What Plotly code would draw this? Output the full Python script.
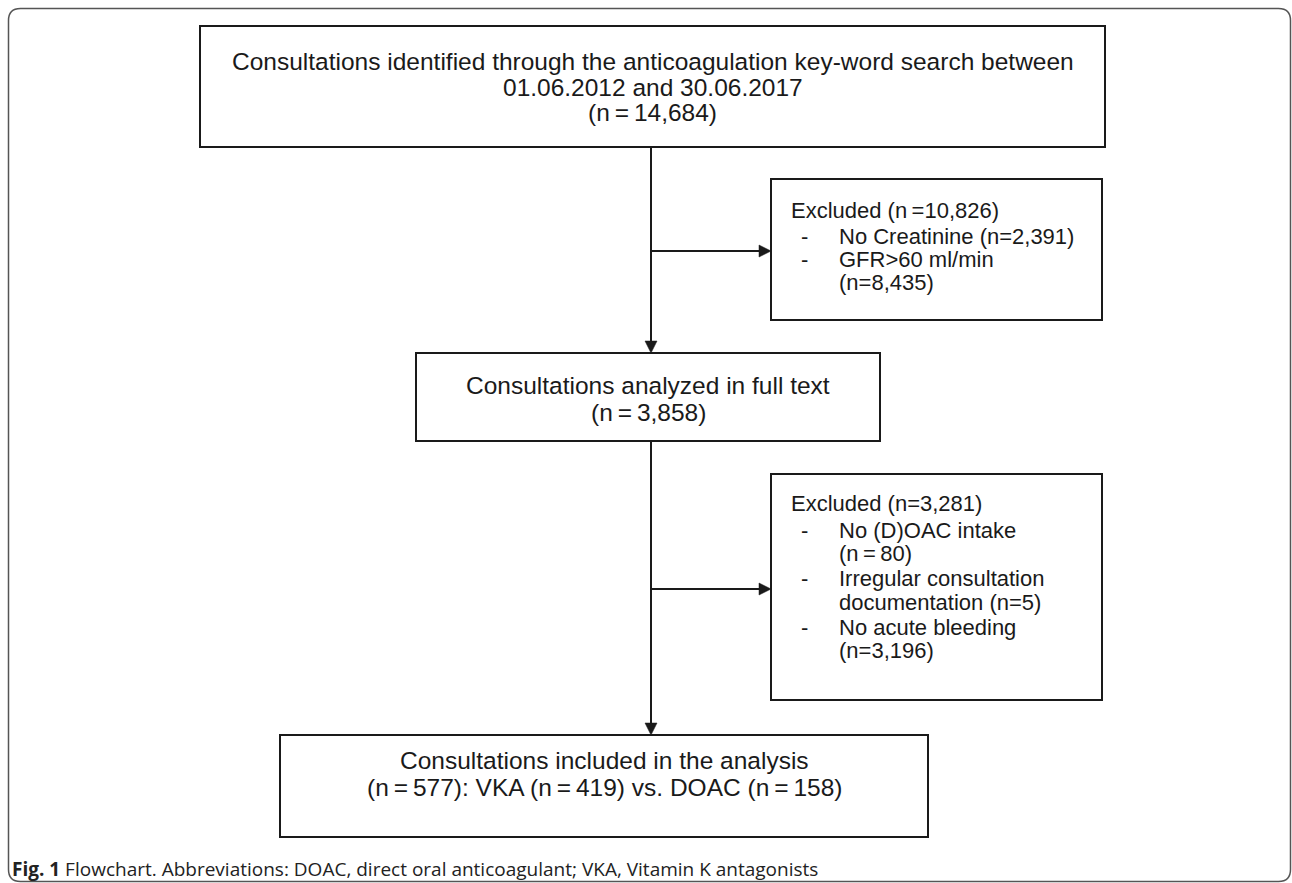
import plotly.graph_objects as go

W, H = 1292, 883

# ---------------- data (texts and counts) ----------------
main_box_lines = [
    ["Consultations identified through the anticoagulation key-word search between",
     "01.06.2012 and 30.06.2017",
     "(n\u2009=\u200914,684)"],
    ["Consultations analyzed in full text",
     "(n\u2009=\u20093,858)"],
    ["Consultations included in the analysis",
     "(n\u2009=\u2009577): VKA (n\u2009=\u2009419) vs. DOAC (n\u2009=\u2009158)"],
]
excl_headers = ["Excluded (n\u2009=10,826)", "Excluded (n=3,281)"]
excl_items = [
    [["No Creatinine (n=2,391)"],
     ["GFR>60 ml/min", "(n=8,435)"]],
    [["No (D)OAC intake", "(n\u2009=\u200980)"],
     ["Irregular consultation", "documentation (n=5)"],
     ["No acute bleeding", "(n=3,196)"]],
]
caption_bold = "Fig. 1"
caption_text = "Flowchart. Abbreviations: DOAC, direct oral anticoagulant; VKA, Vitamin K antagonists"

# ---------------- layout (positions / styles) ----------------
main_boxes = [(200, 26, 1105, 147), (416, 353, 880, 441), (280, 735, 928, 837)]
main_line_y = [[61, 87, 112], [385, 412], [760, 787]]
excl_boxes = [(771, 179, 1102, 320), (771, 474, 1102, 700)]
excl_header_y = [210, 503]
excl_item_y = [[[236], [259, 282]], [[530, 553], [578, 602], [627, 650]]]
excl_header_x, bullet_x, item_x = 790, 804, 838
trunk_x = 651
branch_y = [251, 589]

LINE = "#1a1a1a"
TXT = "#1a1a1a"
FONT = "Liberation Sans, Arial, Helvetica, sans-serif"
FS_MAIN = 24.5
FS_EXCL = 22
HEAD = 12

fig = go.Figure()
shapes = []
annotations = []

# outer rounded frame
r = 12
x0, y0, x1, y1 = 8.5, 8.5, 1290.5, 881.5
frame = (f"M {x0+r},{y0} L {x1-r},{y0} Q {x1},{y0} {x1},{y0+r} "
         f"L {x1},{y1-r} Q {x1},{y1} {x1-r},{y1} L {x0+r},{y1} "
         f"Q {x0},{y1} {x0},{y1-r} L {x0},{y0+r} Q {x0},{y0} {x0+r},{y0} Z")
shapes.append(dict(type="path", path=frame, line=dict(color="#555555", width=1.5),
                   xref="x", yref="y", layer="below"))

for (bx0, by0, bx1, by1) in main_boxes + excl_boxes:
    shapes.append(dict(type="rect", x0=bx0, y0=by0, x1=bx1, y1=by1,
                       line=dict(color=LINE, width=2), fillcolor="rgba(0,0,0,0)",
                       xref="x", yref="y"))


def down_arrow(x, ys, ye):
    shapes.append(dict(type="line", x0=x, y0=ys, x1=x, y1=ye - HEAD + 1,
                       line=dict(color=LINE, width=2), xref="x", yref="y"))
    shapes.append(dict(type="path",
                       path=f"M {x-HEAD/2},{ye-HEAD} L {x+HEAD/2},{ye-HEAD} L {x},{ye} Z",
                       fillcolor=LINE, line=dict(color=LINE, width=0.5),
                       xref="x", yref="y"))


def right_arrow(xs, xe, y):
    shapes.append(dict(type="line", x0=xs, y0=y, x1=xe - HEAD + 1, y1=y,
                       line=dict(color=LINE, width=2), xref="x", yref="y"))
    shapes.append(dict(type="path",
                       path=f"M {xe-HEAD},{y-HEAD/2} L {xe-HEAD},{y+HEAD/2} L {xe},{y} Z",
                       fillcolor=LINE, line=dict(color=LINE, width=0.5),
                       xref="x", yref="y"))


down_arrow(trunk_x, main_boxes[0][3], main_boxes[1][1])
down_arrow(trunk_x, main_boxes[1][3], main_boxes[2][1])
for by, eb in zip(branch_y, excl_boxes):
    right_arrow(trunk_x, eb[0], by)


def txt(x, y, s, anchor="center", size=FS_MAIN, family=FONT):
    annotations.append(dict(x=x, y=y, xref="x", yref="y", text=s, showarrow=False,
                            xanchor=anchor, yanchor="middle", borderpad=0,
                            font=dict(family=family, size=size, color=TXT)))


for (bx0, by0, bx1, by1), lines, ys in zip(main_boxes, main_box_lines, main_line_y):
    cx = (bx0 + bx1) / 2
    for s, y in zip(lines, ys):
        txt(cx, y, s)

for hdr, hy, items, iys in zip(excl_headers, excl_header_y, excl_items, excl_item_y):
    txt(excl_header_x, hy, hdr, anchor="left", size=FS_EXCL)
    for item, ys in zip(items, iys):
        txt(bullet_x, ys[0], "-", anchor="center", size=FS_EXCL)
        for s, y in zip(item, ys):
            txt(item_x, y, s, anchor="left", size=FS_EXCL)

annotations.append(dict(x=10, y=869, xref="x", yref="y",
                        text=f"<b>{caption_bold}</b> {caption_text}", showarrow=False,
                        xanchor="left", yanchor="middle",
                        font=dict(family="Open Sans, Noto Sans, sans-serif", size=19, color="#222222")))

fig.update_layout(
    width=W, height=H, autosize=False,
    margin=dict(l=0, r=0, t=0, b=0, pad=0),
    paper_bgcolor="white", plot_bgcolor="white",
    xaxis=dict(range=[0, W], visible=False, fixedrange=True),
    yaxis=dict(range=[H, 0], visible=False, fixedrange=True),
    shapes=shapes, annotations=annotations, showlegend=False,
)

fig.write_html("out.html", config={"displayModeBar": False, "staticPlot": True},
               post_script="document.body.style.margin='0';document.body.style.overflow='hidden';")
